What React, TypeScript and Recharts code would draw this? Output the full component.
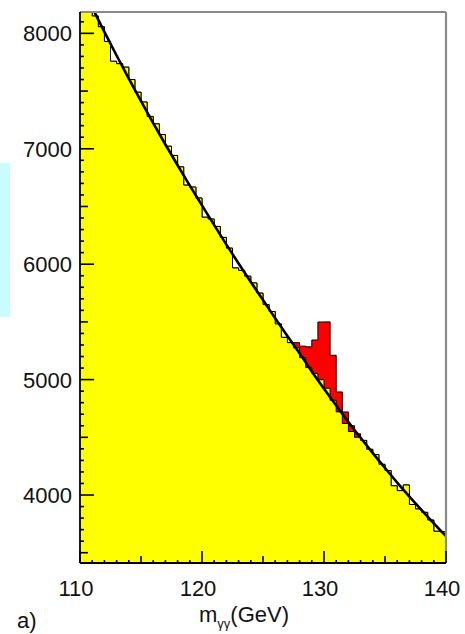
import React from 'react';
import { ComposedChart, Area, Line, XAxis, YAxis, ReferenceLine } from 'recharts';

// bin edges of the m_gamma-gamma histogram (GeV)
const binEdges = [
  110, 110.5, 111, 111.5, 112, 112.5, 113, 113.5, 114, 114.5,
  115, 115.5, 116, 116.5, 117, 117.5, 118, 118.5, 119, 119.5,
  120, 120.5, 121, 121.5, 122, 122.5, 123, 123.5, 124, 124.5,
  125, 125.5, 126, 126.5, 127, 127.5, 128, 128.5, 129, 129.5,
  130, 130.5, 131, 131.5, 132, 132.5, 133, 133.5, 134, 134.5,
  135, 135.5, 136, 136.5, 137, 137.5, 138, 138.5, 139, 139.5, 140,
];

// background (yellow) events per bin
const background = [
  8380, 8275, 8150, 8057, 7930, 7758, 7737, 7707, 7600, 7490,
  7405, 7280, 7216, 7123, 7022, 6942, 6843, 6685, 6668, 6573,
  6407, 6391, 6327, 6232, 6139, 5967, 5946, 5896, 5837, 5749,
  5650, 5590, 5482, 5366, 5320, 5275, 5190, 5104, 5053, 4999,
  4925, 4821, 4720, 4620, 4550, 4500, 4473, 4396, 4351, 4266,
  4212, 4080, 4038, 4087, 3918, 3879, 3850, 3783, 3686, 3681,
];

// signal (red) events per bin, stacked on background
const signal = [
  0, 0, 0, 0, 0, 0, 0, 0, 0, 0,
  0, 0, 0, 0, 0, 0, 0, 0, 0, 0,
  0, 0, 0, 0, 0, 0, 0, 0, 0, 0,
  0, 0, 0, 0, 0, 45, 100, 180, 290, 500,
  575, 390, 173, 100, 50, 30, 0, 0, 0, 0,
  0, 0, 0, 0, 0, 0, 0, 0, 0, 0,
];

// background fit curve
const fitMass = [
  110, 111, 112, 113, 114, 115, 116, 117, 118, 119, 120,
  121, 122, 123, 124, 125, 126, 127, 128, 129, 130,
  131, 132, 133, 134, 135, 136, 137, 138, 139, 140,
];
const fitValues = [
  8432, 8224, 8013, 7808, 7608, 7413, 7222, 7037, 6857, 6681, 6510,
  6339, 6170, 6006, 5846, 5690, 5531, 5378, 5228, 5071, 4921,
  4775, 4633, 4496, 4363, 4234, 4108, 3987, 3869, 3754, 3643,
];

const xLabelTicks = [110, 120, 130, 140];
const yLabelTicks = [4000, 5000, 6000, 7000, 8000];
const xDomain = [110, 140];
const yDomain = [3411, 8185];
const xMinorTicks = fitMass;
const yMinorTicks = Array.from({ length: 47 }, (_, i) => 3500 + i * 100);

const histData = binEdges.map((m, i) => {
  const k = Math.min(i, background.length - 1);
  return { m, bg: background[k], total: background[k] + signal[k] };
});
const fitData = fitMass.map((m, i) => ({ m, fit: fitValues[i] }));

const FONT = '"Liberation Sans", Arial, Helvetica, sans-serif';

const YTick = (props: any) => {
  const { x, y, payload } = props;
  const v = payload.value;
  const major = yLabelTicks.includes(v);
  const mid = v % 500 === 0;
  const len = major ? 14 : mid ? 8 : 4;
  return (
    <g>
      <line x1={x} y1={y} x2={x + len} y2={y} stroke="#000" strokeWidth={1.6} />
      {major && (
        <text x={x - 8} y={y} dy="0.36em" textAnchor="end" fontFamily={FONT} fontSize={22} fill="#111">
          {v}
        </text>
      )}
    </g>
  );
};

const XTick = (props: any) => {
  const { x, y, payload } = props;
  const v = payload.value;
  const major = xLabelTicks.includes(v);
  const mid = v % 5 === 0;
  const len = major ? 12 : mid ? 7 : 3;
  return (
    <g>
      <line x1={x} y1={y} x2={x} y2={y - len} stroke="#000" strokeWidth={1.6} />
      {major && (
        <text x={x - 4} y={y + 33} textAnchor="middle" fontFamily={FONT} fontSize={22} fill="#111">
          {v}
        </text>
      )}
    </g>
  );
};

export default function App() {
  return (
    <div style={{ position: 'absolute', left: 0, top: 0, width: 465, height: 634, background: '#fff' }}>
      <div style={{ position: 'absolute', left: 0, top: 163, width: 10, height: 154, background: '#c8fcff' }} />
      <ComposedChart
        width={465}
        height={634}
        margin={{ top: 12, right: 19, bottom: 0, left: 0 }}
      >
        <Area
          data={histData}
          dataKey="total"
          type="stepAfter"
          fill="#ff0000"
          fillOpacity={1}
          stroke="#000"
          strokeWidth={1}
          isAnimationActive={false}
          dot={false}
          activeDot={false}
        />
        <Area
          data={histData}
          dataKey="bg"
          type="stepAfter"
          fill="#ffff00"
          fillOpacity={1}
          stroke="#000"
          strokeWidth={1}
          isAnimationActive={false}
          dot={false}
          activeDot={false}
        />
        <Line
          data={fitData}
          dataKey="fit"
          type="monotone"
          stroke="#000"
          strokeWidth={2.6}
          dot={false}
          activeDot={false}
          isAnimationActive={false}
        />
        <ReferenceLine y={yDomain[1]} stroke="#8a8a8a" strokeWidth={2.2} ifOverflow="visible" />
        <ReferenceLine x={xDomain[1]} stroke="#8a8a8a" strokeWidth={2.2} ifOverflow="visible" />
        <XAxis
          dataKey="m"
          type="number"
          domain={xDomain}
          allowDataOverflow
          ticks={xMinorTicks}
          interval={0}
          height={71}
          tickSize={0}
          tickMargin={0}
          tickLine={false}
          tick={XTick}
          axisLine={{ stroke: '#000', strokeWidth: 1.8 }}
        />
        <YAxis
          type="number"
          domain={yDomain}
          allowDataOverflow
          ticks={yMinorTicks}
          interval={0}
          width={80}
          tickSize={0}
          tickMargin={0}
          tickLine={false}
          tick={YTick}
          axisLine={{ stroke: '#000', strokeWidth: 1.8 }}
        />
      </ComposedChart>
      <div
        style={{
          position: 'absolute', left: 199, top: 602, fontFamily: FONT, fontSize: 22,
          color: '#111', whiteSpace: 'nowrap', lineHeight: '26px',
        }}
      >
        m<span style={{ fontSize: 13, position: 'relative', top: 6 }}>γγ</span>(GeV)
      </div>
      <div
        style={{
          position: 'absolute', left: 17, top: 608, fontFamily: FONT, fontSize: 22,
          color: '#111', lineHeight: '26px',
        }}
      >
        a)
      </div>
    </div>
  );
}
